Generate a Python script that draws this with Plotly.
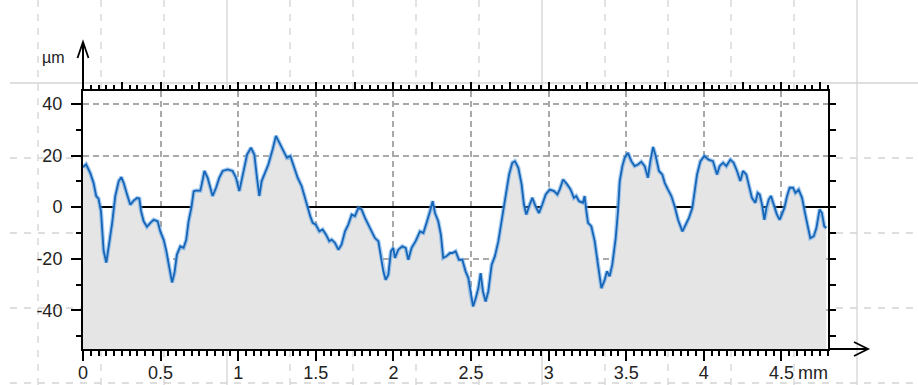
import plotly.graph_objects as go

# ---- profile data: distance along trace (mm) and height (µm) ----
distance_mm = [
    0.0, 0.02, 0.047, 0.068, 0.085, 0.1, 0.116, 0.133, 0.15, 0.165, 0.187, 0.208, 0.23, 0.247,
    0.262, 0.284, 0.305, 0.326, 0.348, 0.363, 0.374, 0.391, 0.412, 0.434, 0.455, 0.481, 0.498,
    0.52, 0.537, 0.552, 0.574, 0.59, 0.605, 0.627, 0.648, 0.665, 0.68, 0.698, 0.713, 0.724,
    0.756, 0.773, 0.782, 0.803, 0.82, 0.835, 0.857, 0.878, 0.9, 0.932, 0.964, 0.986, 1.007,
    1.018, 1.035, 1.057, 1.082, 1.104, 1.121, 1.136, 1.151, 1.168, 1.194, 1.222, 1.243, 1.265,
    1.297, 1.314, 1.336, 1.357, 1.383, 1.409, 1.426, 1.447, 1.464, 1.48, 1.5, 1.523, 1.544,
    1.566, 1.587, 1.602, 1.623, 1.645, 1.666, 1.688, 1.709, 1.731, 1.752, 1.774, 1.795, 1.817,
    1.838, 1.86, 1.881, 1.903, 1.92, 1.935, 1.95, 1.967, 1.984, 1.999, 2.01, 2.031, 2.057,
    2.079, 2.096, 2.117, 2.143, 2.171, 2.193, 2.214, 2.236, 2.253, 2.268, 2.289, 2.306, 2.321,
    2.343, 2.364, 2.38, 2.401, 2.422, 2.444, 2.465, 2.483, 2.498, 2.513, 2.53, 2.547, 2.562,
    2.577, 2.594, 2.611, 2.633, 2.654, 2.676, 2.697, 2.712, 2.727, 2.745, 2.766, 2.783, 2.805,
    2.826, 2.841, 2.856, 2.878, 2.895, 2.916, 2.938, 2.959, 2.981, 3.007, 3.035, 3.056, 3.071,
    3.093, 3.12, 3.142, 3.163, 3.178, 3.196, 3.221, 3.232, 3.243, 3.254, 3.275, 3.297, 3.318,
    3.34, 3.361, 3.376, 3.393, 3.41, 3.432, 3.447, 3.458, 3.475, 3.49, 3.511, 3.533, 3.554,
    3.576, 3.597, 3.619, 3.64, 3.655, 3.673, 3.69, 3.711, 3.733, 3.748, 3.769, 3.791, 3.812,
    3.834, 3.862, 3.883, 3.904, 3.926, 3.941, 3.956, 3.978, 4.003, 4.031, 4.059, 4.085, 4.102,
    4.124, 4.145, 4.171, 4.192, 4.214, 4.235, 4.252, 4.274, 4.289, 4.31, 4.332, 4.347, 4.36,
    4.375, 4.39, 4.403, 4.418, 4.433, 4.45, 4.471, 4.489, 4.504, 4.519, 4.536, 4.553, 4.575,
    4.59, 4.611, 4.633, 4.654, 4.669, 4.686, 4.708, 4.725, 4.746, 4.761, 4.776, 4.789,
]
height_um = [
    15.5, 16.6, 13.2, 9.4, 4.3, 3.3, -1.6, -16.9, -21.5, -15.8, -6.5, 4.3, 10.1, 11.6,
    9.4, 4.9, 0.9, 2.5, 3.5, 3.3, -1.5, -5.5, -7.6, -6.1, -4.9, -5.5, -9.4,
    -12.7, -16.9, -22.1, -29.2, -25.2, -18.4, -15.2, -15.8, -12.7, -5.5, -0.3, 6.1, 6.4,
    6.4, 11.1, 14.0, 11.4, 7.5, 4.3, 7.5, 11.4, 14.0, 14.6, 14.0, 11.4, 6.2,
    9.4, 14.0, 20.4, 23.0, 20.4, 11.4, 4.3, 10.1, 12.6, 16.5, 22.4, 27.6, 25.0,
    21.0, 19.1, 19.8, 15.9, 11.4, 8.1, 4.3, -0.3, -3.5, -6.1, -6.8, -9.4, -8.7,
    -10.7, -13.2, -12.6, -13.8, -16.5, -14.5, -9.4, -6.8, -2.9, -3.5, -0.3, -0.9, -4.2,
    -6.8, -9.4, -12.0, -13.2, -19.0, -24.9, -28.2, -26.2, -17.1, -15.8, -19.7, -16.5, -15.2,
    -15.8, -20.4, -15.8, -13.2, -9.4, -10.0, -6.1, -1.6, 2.3, -2.3, -5.5, -10.7, -19.7,
    -19.0, -17.8, -17.8, -17.1, -20.4, -20.4, -24.9, -27.5, -34.0, -38.5, -35.3, -31.4, -25.6,
    -32.7, -36.6, -32.7, -22.3, -19.0, -13.2, -5.5, -0.3, 6.2, 12.6, 17.2, 17.8, 15.2,
    8.8, 1.0, -2.9, 1.0, 3.6, 0.3, -2.3, 1.0, 4.9, 6.8, 6.2, 4.9, 6.8,
    10.7, 8.8, 6.8, 3.6, 4.3, 2.3, 1.7, 4.3, -1.6, -6.1, -7.4, -13.2, -22.3,
    -31.4, -28.2, -24.9, -26.8, -22.3, -12.0, -1.6, 10.1, 15.9, 19.1, 21.0, 17.8, 15.9,
    16.5, 17.6, 15.9, 11.4, 17.8, 23.3, 19.8, 14.0, 12.6, 9.4, 6.8, 4.3, 0.3,
    -4.9, -9.4, -6.8, -4.2, -0.3, 6.2, 12.6, 17.8, 19.8, 18.4, 17.8, 12.6, 15.9,
    17.2, 15.9, 18.4, 17.2, 14.0, 10.1, 14.0, 12.6, 8.8, 3.6, 1.7, 5.5, 4.9,
    1.0, -4.9, -0.3, 2.9, 4.3, 1.0, -2.9, -4.9, -2.9, -0.3, 4.3, 7.5, 7.5,
    5.5, 6.8, 3.6, -2.9, -6.8, -12.0, -11.3, -8.1, -0.9, -2.3, -7.4, -8.1,
]

# ---- axes: ranges and tick labels ----
x_range = [0.0, 4.8]
y_range = [-55.0, 45.0]
x_ticks = [0, 0.5, 1, 1.5, 2, 2.5, 3, 3.5, 4, 4.5]
x_tick_labels = ["0", "0.5", "1", "1.5", "2", "2.5", "3", "3.5", "4", "4.5"]
x_quarter_ticks = [0.25, 0.5, 0.75, 1, 1.25, 1.5, 1.75, 2, 2.25, 2.5, 2.75, 3, 3.25, 3.5,
                   3.75, 4, 4.25, 4.5, 4.75]
y_ticks = [-40, -20, 0, 20, 40]
y_tick_labels = ["-40", "-20", "0", "20", "40"]
x_unit = "mm"
y_unit = "µm"

FONT = "Liberation Sans, Arial, sans-serif"
TEXT = "#222222"
BG_GRID = "#d4d4d4"

# plot-area frame in pixels (used to place decorations in paper coordinates)
W, H = 918, 385
L, R, T, B = 83, 828, 91, 349


def px(xp):
    return (xp - L) / (R - L)


def py(yp):
    return (B - yp) / (B - T)


fig = go.Figure()

# floor of the filled profile (bottom of the value range)
fig.add_trace(go.Scatter(
    x=[distance_mm[0], distance_mm[-1]], y=[y_range[0], y_range[0]],
    mode="lines", line=dict(width=0, color="rgba(0,0,0,0)"),
    showlegend=False, hoverinfo="skip",
))
# filled profile with a soft light-blue edge
fig.add_trace(go.Scatter(
    x=distance_mm, y=height_um, mode="lines",
    fill="tonexty", fillcolor="#e5e5e5",
    line=dict(color="rgba(95,160,225,0.55)", width=4.2),
    showlegend=False, hoverinfo="skip",
))
# profile line
fig.add_trace(go.Scatter(
    x=distance_mm, y=height_um, mode="lines",
    line=dict(color="#1565b8", width=1.8),
    showlegend=False,
))
# anchors the top / right tick axes
fig.add_trace(go.Scatter(
    x=[x_range[0]], y=[y_range[0]], xaxis="x2", yaxis="y2", mode="lines",
    showlegend=False, hoverinfo="skip",
))

shapes = []
# graph-paper background grid
for k in range(14):
    xv = 38 + 63 * k
    solid = k in (3, 8, 13)
    shapes.append(dict(
        type="line", xref="paper", yref="paper", layer="below",
        x0=px(xv), x1=px(xv), y0=py(0), y1=py(H),
        line=dict(color=BG_GRID, width=1.3, dash="solid" if solid else "7px,7px"),
    ))
for yv, solid in [(83, True), (158, False), (233, False), (308, False), (383, False)]:
    shapes.append(dict(
        type="line", xref="paper", yref="paper", layer="below",
        x0=px(10), x1=px(W), y0=py(yv), y1=py(yv),
        line=dict(color=BG_GRID, width=1.3, dash="solid" if solid else "7px,7px"),
    ))
# white plotting area over the background grid
shapes.append(dict(
    type="rect", xref="paper", yref="paper", layer="below",
    x0=0, x1=1, y0=0, y1=1, fillcolor="white", line=dict(width=0),
))
# value axis extended upward with an open arrow head
shapes.append(dict(
    type="line", xref="paper", yref="paper", layer="above",
    x0=0, x1=0, y0=1, y1=py(42), line=dict(color="black", width=2),
))
shapes.append(dict(
    type="path", xref="paper", yref="paper", layer="above",
    path=f"M {px(77.5)},{py(58)} L {px(83)},{py(42)} L {px(88.5)},{py(58)}",
    line=dict(color="black", width=1.8),
))
# distance axis extended to the right with an open arrow head
shapes.append(dict(
    type="line", xref="paper", yref="paper", layer="above",
    x0=1, x1=px(868), y0=0, y1=0, line=dict(color="black", width=2),
))
shapes.append(dict(
    type="path", xref="paper", yref="paper", layer="above",
    path=f"M {px(854)},{py(342)} L {px(868)},{py(349)} L {px(854)},{py(356)}",
    line=dict(color="black", width=1.8),
))

annotations = [
    dict(text=y_unit, xref="paper", yref="paper", x=px(53), y=py(57),
         xanchor="center", yanchor="middle", showarrow=False,
         font=dict(family=FONT, size=16, color=TEXT)),
    dict(text=x_unit, xref="paper", yref="paper", x=px(796), y=py(385),
         xanchor="left", yanchor="bottom", showarrow=False,
         font=dict(family=FONT, size=18, color=TEXT)),
]

fig.update_layout(
    width=W, height=H,
    margin=dict(l=L, r=W - R, t=T, b=H - B, pad=0, autoexpand=False),
    paper_bgcolor="white", plot_bgcolor="white",
    font=dict(family=FONT, size=18, color=TEXT),
    shapes=shapes, annotations=annotations,
    showlegend=False,
    xaxis=dict(
        range=x_range, automargin=False,
        tickmode="array", tickvals=x_ticks, ticktext=x_tick_labels,
        ticks="outside", ticklen=10, tickwidth=2, tickcolor="black",
        ticklabelstandoff=-4,
        minor=dict(dtick=0.05, tick0=0, ticks="outside", ticklen=5, tickwidth=1.5,
                   tickcolor="black", showgrid=False),
        showline=True, linecolor="black", linewidth=2,
        showgrid=True, gridcolor="#a9a9a9", gridwidth=1.5, griddash="6px,4px",
        zeroline=False, tickfont=dict(family=FONT, size=18, color=TEXT),
    ),
    yaxis=dict(
        range=y_range, automargin=False,
        tickmode="array", tickvals=y_ticks, ticktext=y_tick_labels,
        ticks="outside", ticklen=10, tickwidth=2, tickcolor="black",
        ticklabelstandoff=5,
        minor=dict(dtick=10, tick0=0, ticks="outside", ticklen=5, tickwidth=1.8,
                   tickcolor="black", showgrid=False),
        showline=True, linecolor="black", linewidth=2,
        showgrid=True, gridcolor="#a9a9a9", gridwidth=1.5, griddash="6px,4px",
        zeroline=True, zerolinecolor="black", zerolinewidth=2,
        tickfont=dict(family=FONT, size=18, color=TEXT),
    ),
    xaxis2=dict(
        range=x_range, overlaying="x", side="top", anchor="y", automargin=False,
        tickmode="array", tickvals=x_quarter_ticks,
        ticks="outside", ticklen=7, tickwidth=1.8, tickcolor="black",
        minor=dict(dtick=0.05, tick0=0, ticks="outside", ticklen=4, tickwidth=1.5,
                   tickcolor="black", showgrid=False),
        showticklabels=False, showline=True, linecolor="black", linewidth=2,
        showgrid=False, zeroline=False,
    ),
    yaxis2=dict(
        range=y_range, overlaying="y", side="right", anchor="x", automargin=False,
        tickmode="linear", tick0=0, dtick=10,
        ticks="outside", ticklen=6, tickwidth=1.8, tickcolor="black",
        showticklabels=False, showline=True, linecolor="black", linewidth=2,
        showgrid=False, zeroline=False,
    ),
)

fig.write_html("out.html")
